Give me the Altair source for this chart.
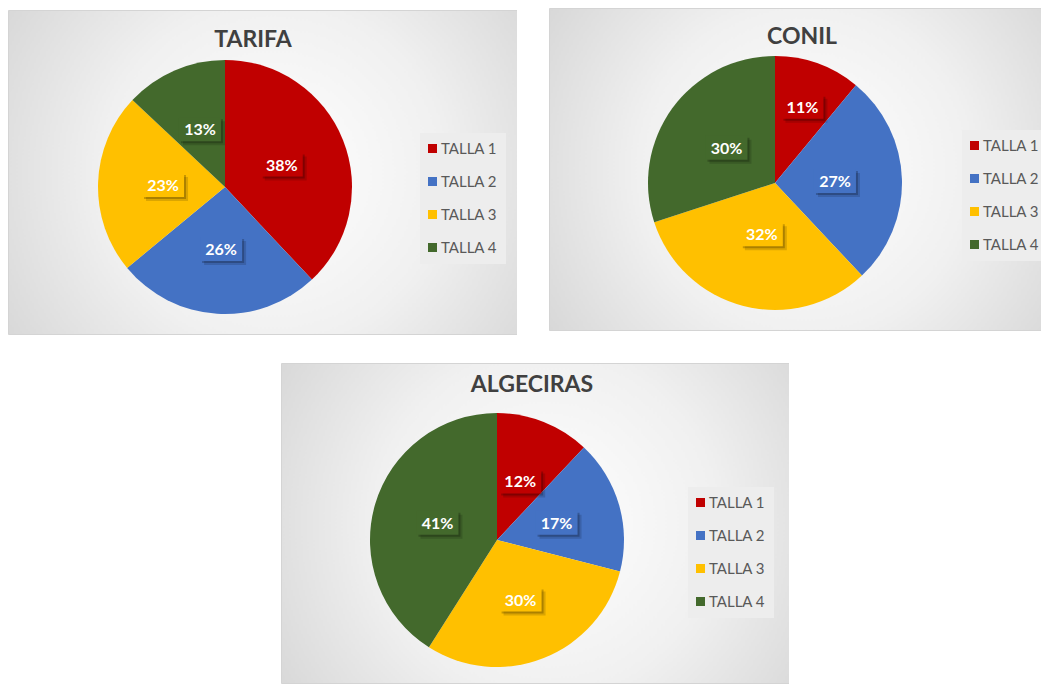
import math
import altair as alt
import pandas as pd

# ---------------- data ----------------
TALLAS = ["TALLA 1", "TALLA 2", "TALLA 3", "TALLA 4"]
COLORS = ["#c00000", "#4472c4", "#ffc000", "#43692c"]

TARIFA = [38, 26, 23, 13]
CONIL = [11, 27, 32, 30]
ALGECIRAS = [12, 17, 30, 41]

# distance of each data label from the pie centre (layout, px)
TARIFA_LAB_R = [61, 62, 62, 63]
CONIL_LAB_R = [81, 60, 53, 60]
ALGECIRAS_LAB_R = [63, 62, 64, 62]

PIE_R = 127
BOX_W, BOX_H = 42, 24
LEG_W, LEG_H, LEG_FIRST, LEG_STEP = 86, 131, 15.5, 33

FONT = "Lato"


def panel(name, values, lab_r, ox, oy, W, H, cx, cy, tx, tb, lgx, lgy):
    VW, VH = ox + W, oy + H
    px0, py0 = ox + cx, oy + cy

    total = float(sum(values))
    rows = []
    cum = 0.0
    for i, (t, v, r) in enumerate(zip(TALLAS, values, lab_r)):
        mid = (cum + v / 2.0) / total * 2 * math.pi
        cum += v
        lx = r * math.sin(mid)
        ly = r * math.cos(mid)  # up-positive
        row = dict(talla=t, value=v, order=i, label=f"{v}%", zero=0, lx=lx, ly=ly,
                   bx1=lx - BOX_W / 2, bx2=lx + BOX_W / 2,
                   by1=ly - BOX_H / 2, by2=ly + BOX_H / 2,
                   legy=py0 - (oy + lgy + LEG_FIRST + LEG_STEP * i))
        for k, s in (("a", 4), ("b", 2)):
            row[f"s{k}x1"] = lx - BOX_W / 2 + s
            row[f"s{k}x2"] = lx + BOX_W / 2 + s
            row[f"s{k}y1"] = ly - BOX_H / 2 - s
            row[f"s{k}y2"] = ly + BOX_H / 2 - s
        rows.append(row)
    df = pd.DataFrame(rows)

    sx = alt.Scale(domain=[-px0, VW - px0], nice=False, zero=False)
    sy = alt.Scale(domain=[py0 - VH, py0], nice=False, zero=False)

    color_enc = alt.Color(
        "talla:N", scale=alt.Scale(domain=TALLAS, range=COLORS), legend=None
    )

    grad = alt.RadialGradient(
        gradient="radial",
        x1=0.5, y1=0.5, r1=0.0,
        x2=0.5, y2=0.5, r2=0.72,
        stops=[
            alt.GradientStop(offset=0, color="#ffffff"),
            alt.GradientStop(offset=0.45, color="#f0f0f0"),
            alt.GradientStop(offset=1, color="#cccccc"),
        ],
    )

    tdf = pd.DataFrame({"t": [name]})
    bg = alt.Chart(tdf).mark_rect(fill=grad, stroke="#d4d4d4", strokeWidth=1).encode(
        x=alt.value(ox + 0.5), x2=alt.value(VW + 20),
        y=alt.value(oy + 0.5), y2=alt.value(VH - 0.5),
    )
    bg = bg.mark_rect(fill=grad, stroke="#d4d4d4", strokeWidth=1, clip=True)

    title = alt.Chart(tdf).mark_text(
        font=FONT, fontSize=23, fontWeight="bold", color="#404040",
        align="center", baseline="alphabetic",
    ).encode(text="t:N", x=alt.value(ox + tx), y=alt.value(oy + tb))

    base = alt.Chart(df)
    arcs = base.mark_arc(radius=PIE_R).encode(
        theta=alt.Theta("value:Q", stack=True),
        order=alt.Order("order:Q"),
        color=color_enc,
        x=alt.X("zero:Q", scale=sx, axis=None),
        y=alt.Y("zero:Q", scale=sy, axis=None),
    )
    shadow_a = base.mark_rect(color="#000000", opacity=0.14).encode(
        x=alt.X("sax1:Q", scale=sx, axis=None), x2="sax2:Q",
        y=alt.Y("say1:Q", scale=sy, axis=None), y2="say2:Q",
    )
    shadow_b = base.mark_rect(color="#000000", opacity=0.22).encode(
        x=alt.X("sbx1:Q", scale=sx, axis=None), x2="sbx2:Q",
        y=alt.Y("sby1:Q", scale=sy, axis=None), y2="sby2:Q",
    )
    boxes = base.mark_rect().encode(
        x=alt.X("bx1:Q", scale=sx, axis=None), x2="bx2:Q",
        y=alt.Y("by1:Q", scale=sy, axis=None), y2="by2:Q",
        color=color_enc,
    )
    texts = base.mark_text(
        font=FONT, fontSize=16, fontWeight="bold", color="white",
        align="center", baseline="middle", dy=1,
    ).encode(
        x=alt.X("lx:Q", scale=sx, axis=None),
        y=alt.Y("ly:Q", scale=sy, axis=None),
        text="label:N",
    )

    # legend (drawn as marks so that it can be clipped at the panel edge)
    leg_box = alt.Chart(tdf).mark_rect(fill="#ededed", clip=True).encode(
        x=alt.value(ox + lgx), x2=alt.value(ox + lgx + LEG_W),
        y=alt.value(oy + lgy), y2=alt.value(oy + lgy + LEG_H),
    )
    leg_sym = base.mark_square(size=81, opacity=1, clip=True).encode(
        x=alt.value(ox + lgx + 12.5),
        y=alt.Y("legy:Q", scale=sy, axis=None),
        color=color_enc,
    )
    leg_txt = base.mark_text(
        font=FONT, fontSize=15, color="#595959", align="left", baseline="middle",
        clip=True,
    ).encode(
        x=alt.value(ox + lgx + 21),
        y=alt.Y("legy:Q", scale=sy, axis=None),
        text="talla:N",
    )

    return alt.layer(
        bg, title, arcs, shadow_a, shadow_b, boxes, texts, leg_box, leg_sym, leg_txt
    ).properties(width=VW, height=VH)


tarifa = panel("TARIFA", TARIFA, TARIFA_LAB_R, ox=0, oy=2, W=509, H=325,
               cx=217, cy=177, tx=245, tb=37, lgx=412, lgy=123)
conil = panel("CONIL", CONIL, CONIL_LAB_R, ox=0, oy=0, W=492, H=323,
              cx=226, cy=175, tx=253, tb=36, lgx=413, lgy=122)
algeciras = panel("ALGECIRAS", ALGECIRAS, ALGECIRAS_LAB_R, ox=273, oy=0, W=508, H=321,
                  cx=216, cy=177, tx=251, tb=29, lgx=407, lgy=124)

top = alt.hconcat(tarifa, conil, spacing=32).resolve_scale(
    color="independent", x="independent", y="independent", theta="independent"
)
chart = (
    alt.vconcat(top, algeciras, spacing=28)
    .resolve_scale(color="independent", x="independent", y="independent", theta="independent")
    .properties(padding=0, background="white")
    .configure_view(stroke=None)
)

chart.save("out.html", embed_options={"renderer": "svg", "actions": False})
